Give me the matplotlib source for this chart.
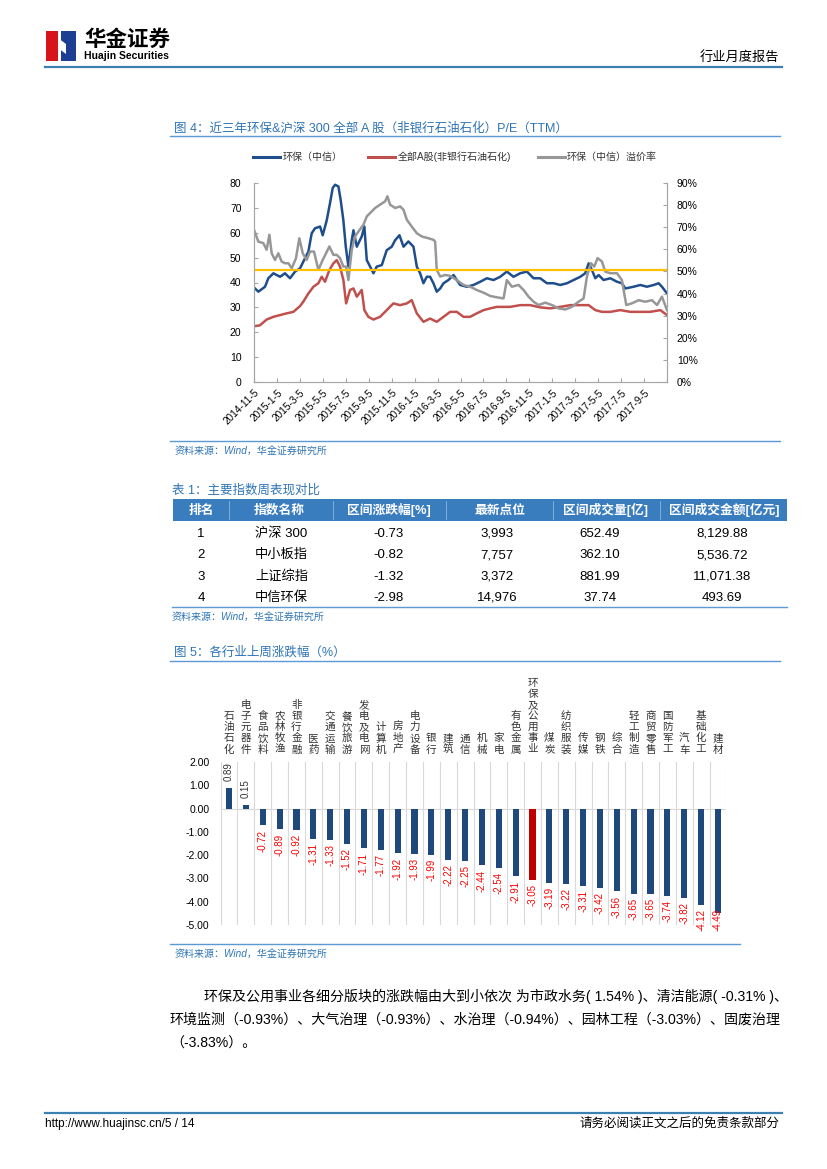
import numpy as np
import pandas as pd
import matplotlib.pyplot as plt
from matplotlib.patches import Rectangle, Polygon
from matplotlib.lines import Line2D
from matplotlib.ticker import FuncFormatter

plt.rcParams['font.family'] = ['Liberation Sans', 'Noto Sans CJK SC']

# ============================================================
# DATA
# ============================================================

# Figure 4: P/E (TTM), time in months since 2014-11-05
hb_t = [0.0, 0.38, 0.96, 1.25, 1.69, 2.27, 2.70, 3.14, 3.58, 4.01, 4.30, 4.74, 5.03, 5.32,
        5.76, 5.99, 6.34, 6.63, 6.86, 7.07, 7.36, 7.56, 7.79, 8.00, 8.23, 8.52, 8.67, 8.96,
        9.39, 9.62, 9.83, 10.12, 10.41, 10.70, 11.14, 11.57, 12.01, 12.30, 12.68, 13.03,
        13.46, 13.90, 14.19, 14.48, 14.77, 15.06, 15.35, 15.64, 15.93, 16.23, 16.52, 16.95,
        17.39, 17.97, 18.55, 19.13, 19.72, 20.30, 20.88, 21.46, 22.04, 22.62, 23.20, 23.79,
        24.37, 24.95, 25.53, 26.11, 26.69, 27.28, 27.86, 28.44, 28.87, 29.17, 29.46, 29.75,
        30.04, 30.47, 31.06, 31.64, 32.07, 32.36, 33.09, 33.67, 34.25, 34.84, 35.27, 35.56,
        36.00]
hb_pe = [38.0, 36.3, 38.3, 41.7, 43.7, 42.3, 43.7, 41.7, 44.4, 45.7, 48.4, 52.4, 59.8, 61.8,
         62.5, 59.0, 65.0, 72.0, 78.0, 79.3, 78.6, 73.0, 65.0, 54.4, 46.4, 57.0, 61.0, 54.4,
         58.5, 62.5, 49.0, 46.4, 43.7, 46.4, 47.0, 53.0, 54.4, 57.0, 59.0, 54.4,
         56.5, 54.4, 46.4, 43.7, 39.7, 42.3, 42.3, 39.7, 36.3, 37.6, 39.7, 41.0,
         43.0, 39.0, 38.3, 39.0, 40.3, 41.7, 41.0, 42.3, 44.4, 42.3, 43.7, 44.4,
         41.7, 41.7, 39.7, 39.7, 39.0, 39.7, 41.0, 42.3, 43.7, 47.7, 45.0, 41.7,
         43.0, 41.0, 41.7, 40.3, 39.7, 37.6, 38.3, 39.0, 38.3, 39.0, 39.7, 38.3,
         35.6]

a_t = [0.0, 0.52, 1.10, 1.69, 2.27, 2.85, 3.43, 4.01, 4.30, 4.74, 5.18, 5.61, 5.90, 6.19,
       6.57, 6.92, 7.21, 7.50, 7.79, 8.03, 8.37, 8.67, 8.96, 9.39, 9.62, 9.97, 10.41, 10.99,
       11.57, 12.15, 12.74, 13.32, 13.75, 14.19, 14.77, 15.35, 15.93, 16.52, 17.10, 17.68,
       18.26, 18.84, 19.42, 20.01, 20.59, 21.17, 21.75, 22.33, 23.20, 24.08, 24.95, 25.82,
       26.69, 27.57, 28.44, 29.17, 29.75, 30.33, 31.06, 31.93, 32.80, 33.67, 34.54, 35.42,
       36.00]
a_pe = [22.4, 22.8, 25.1, 26.2, 26.9, 27.6, 28.2, 30.5, 32.3, 35.6, 38.3, 39.7, 42.3, 40.3,
        45.0, 47.7, 49.0, 46.4, 41.0, 31.6, 37.0, 37.6, 34.3, 37.0, 28.9, 26.2, 25.1, 26.2,
        28.9, 31.6, 30.9, 31.6, 32.9, 27.6, 24.2, 25.5, 24.2, 26.2, 28.2, 28.2,
        26.2, 26.2, 27.6, 28.9, 29.6, 30.2, 30.2, 30.2, 30.9, 30.9, 30.0, 29.6,
        30.2, 30.9, 30.9, 30.9, 28.9, 28.2, 28.2, 28.9, 28.2, 28.2, 28.2, 28.9,
        26.9]

prem_t = [0.0, 0.38, 0.81, 1.10, 1.34, 1.54, 1.83, 2.12, 2.41, 2.70, 3.00, 3.29, 3.66, 3.95,
          4.25, 4.59, 4.89, 5.23, 5.61, 5.99, 6.28, 6.57, 6.92, 7.21, 7.50, 7.79, 8.03, 8.23,
          8.52, 8.81, 9.10, 9.54, 9.83, 10.12, 10.56, 10.99, 11.43, 11.63, 11.86, 12.30,
          12.74, 13.03, 13.32, 13.75, 14.19, 14.63, 15.21, 15.64, 15.79, 15.93, 16.23, 16.66,
          17.10, 17.68, 18.26, 18.84, 19.42, 20.01, 20.59, 21.17, 21.75, 22.04, 22.48, 23.06,
          23.50, 23.93, 24.37, 24.80, 25.39, 25.97, 26.55, 27.13, 27.71, 28.29, 28.73, 29.02,
          29.37, 29.66, 29.95, 30.33, 30.62, 31.06, 31.64, 32.07, 32.45, 32.95, 33.53, 34.11,
          34.69, 35.13, 35.56, 36.00]
prem_pct = [68.8, 63.5, 62.8, 59.8, 66.6, 58.2, 55.2, 58.2, 54.5, 53.7, 53.7, 51.4, 56.0, 65.0,
            58.2, 55.2, 59.0, 59.0, 50.7, 55.2, 58.2, 61.3, 57.5, 57.5, 56.0, 52.2, 52.2, 46.1,
            59.8, 65.8, 68.0, 71.1, 74.9, 76.4, 78.7, 80.2, 81.7, 84.0, 80.2, 78.7,
            79.4, 77.9, 73.4, 70.3, 67.3, 65.8, 65.0, 64.3, 63.5, 50.7, 47.7, 48.4,
            48.0, 46.1, 43.9, 43.1, 41.6, 40.4, 38.9, 38.3, 37.8, 46.1, 43.1, 43.9,
            41.6, 38.6, 36.3, 34.8, 35.9, 34.8, 33.3, 32.8, 34.0, 36.3, 37.8, 47.7,
            53.7, 52.2, 56.0, 54.5, 49.9, 49.2, 49.2, 46.1, 34.8, 35.6, 37.0, 36.3,
            37.0, 34.8, 38.6, 32.5]

prem_avg = 50.5

date_labels = ["2014-11-5", "2015-1-5", "2015-3-5", "2015-5-5", "2015-7-5", "2015-9-5",
               "2015-11-5", "2016-1-5", "2016-3-5", "2016-5-5", "2016-7-5", "2016-9-5",
               "2016-11-5", "2017-1-5", "2017-3-5", "2017-5-5", "2017-7-5", "2017-9-5"]

legend_names = ["环保（中信）", "全部A股(非银行石油石化)", "环保（中信）溢价率"]

# Table 1
tbl_header = ["排名", "指数名称", "区间涨跌幅[%]", "最新点位", "区间成交量[亿]", "区间成交金额[亿元]"]
tbl_rank = ["1", "2", "3", "4"]
tbl_name = ["沪深 300", "中小板指", "上证综指", "中信环保"]
tbl_chg = ["-0.73", "-0.82", "-1.32", "-2.98"]
tbl_last = ["3,993", "7,757", "3,372", "14,976"]
tbl_vol = ["652.49", "362.10", "881.99", "37.74"]
tbl_amt = ["8,129.88", "5,536.72", "11,071.38", "493.69"]

# Figure 5
industries = ["石油石化", "电子元器件", "食品饮料", "农林牧渔", "非银行金融", "医药", "交通运输",
              "餐饮旅游", "发电及电网", "计算机", "房地产", "电力设备", "银行", "建筑", "通信",
              "机械", "家电", "有色金属", "环保及公用事业", "煤炭", "纺织服装", "传媒", "钢铁",
              "综合", "轻工制造", "商贸零售", "国防军工", "汽车", "基础化工", "建材"]
changes = [0.89, 0.15, -0.72, -0.89, -0.92, -1.31, -1.33, -1.52, -1.71, -1.77, -1.92, -1.93,
           -1.99, -2.22, -2.25, -2.44, -2.54, -2.91, -3.05, -3.19, -3.22, -3.31, -3.42, -3.56,
           -3.65, -3.65, -3.74, -3.82, -4.12, -4.49]
highlight = "环保及公用事业"

paragraph = ["环保及公用事业各细分版块的涨跌幅由大到小依次 为市政水务( 1.54% )、清洁能源( -0.31% )、",
             "环境监测（-0.93%）、大气治理（-0.93%）、水治理（-0.94%）、园林工程（-3.03%）、固废治理",
             "（-3.83%）。"]

# ============================================================
# STYLE
# ============================================================

W, H = 827, 1169


def fx(x):
    return x / W


def fy(y):
    return 1 - y / H


title_blue = "#2e74b5"
rule_blue = "#5b9bd5"
head_blue = "#3a7dbf"
c_hb = "#1f4e8c"
c_a = "#c0504d"
c_prem = "#979797"
c_avg = "#ffc000"
c_bar = "#1f497d"
c_bar_hl = "#c00000"
c_neg = "#ff0000"
grey_axis = "#a6a6a6"

fig = plt.figure(figsize=(8.27, 11.69), dpi=100)

# ============================================================
# PAGE HEADER / FOOTER
# ============================================================

fig.patches.append(Rectangle((fx(46), fy(61)), 12 / W, 30 / H, transform=fig.transFigure,
                             color="#d7141a", lw=0))
fig.patches.append(Rectangle((fx(61), fy(61)), 15 / W, 30 / H, transform=fig.transFigure,
                             color="#1c3f94", lw=0))
fig.patches.append(Polygon([(fx(58), fy(38)), (fx(66), fy(44)), (fx(66), fy(54)), (fx(58), fy(48))],
                           closed=True, transform=fig.transFigure, color="white", lw=0))
fig.text(fx(84), fy(40), "华金证券", fontsize=15.5, fontweight="bold", va="center", ha="left")
fig.text(fx(84), fy(56), "Huajin Securities", fontsize=7.5, fontweight="bold", va="center", ha="left")
fig.text(fx(779), fy(57), "行业月度报告", fontsize=9.5, va="center", ha="right")
fig.lines.append(Line2D([fx(45), fx(782)], [fy(67), fy(67)], transform=fig.transFigure,
                        color="#3c7fb1", lw=1.6))

fig.lines.append(Line2D([fx(45), fx(782)], [fy(1113), fy(1113)], transform=fig.transFigure,
                        color="#3c7fb1", lw=1.6))
fig.text(fx(45), fy(1124), "http://www.huajinsc.cn/5 / 14", fontsize=8.5, va="center", ha="left")
fig.text(fx(779), fy(1124), "请务必阅读正文之后的免责条款部分", fontsize=9, va="center", ha="right")

# ============================================================
# FIGURE 4 - LINE CHART
# ============================================================

fig.text(fx(174), fy(128), "图 4：近三年环保&沪深 300 全部 A 股（非银行石油石化）P/E（TTM）",
         fontsize=9.0, color=title_blue, va="center", ha="left")
fig.lines.append(Line2D([fx(170), fx(780)], [fy(136), fy(136)], transform=fig.transFigure,
                        color=rule_blue, lw=1.0))

leg_x = [(253, 280, 283), (368, 395, 398), (538, 565, 567)]
for (x0, x1, xt), name, col in zip(leg_x, legend_names, [c_hb, c_a, c_prem]):
    fig.lines.append(Line2D([fx(x0), fx(x1)], [fy(157), fy(157)], transform=fig.transFigure,
                            color=col, lw=2.2))
    fig.text(fx(xt), fy(157), name, fontsize=7.2, va="center", ha="left", color="#333333")

ax = fig.add_axes([fx(254), fy(382), (667 - 254) / W, (382 - 183) / H])
ax.plot(hb_t, hb_pe, color=c_hb, lw=1.8)
ax.plot(a_t, a_pe, color=c_a, lw=1.8)
ax.set_xlim(0, 36)
ax.set_ylim(0, 80)
ax.set_yticks(np.arange(0, 81, 10))
ax.set_xticks(np.arange(0, 37, 2))
ax.set_xticklabels(date_labels + [""], rotation=45, ha="right", rotation_mode="anchor", fontsize=7.2)
ax.tick_params(axis="x", direction="in", length=3, color=grey_axis, pad=4)
ax.tick_params(axis="y", direction="in", length=3, color=grey_axis, labelsize=7.5, pad=9)
ax.spines["top"].set_visible(False)
for s in ["left", "bottom", "right"]:
    ax.spines[s].set_color(grey_axis)

ax2 = ax.twinx()
ax2.plot(prem_t, prem_pct, color=c_prem, lw=1.8)
ax2.axhline(prem_avg, color=c_avg, lw=1.6)
ax2.set_ylim(0, 90)
ax2.set_yticks(np.arange(0, 91, 10))
ax2.yaxis.set_major_formatter(FuncFormatter(lambda v, p: f"{v:.0f}%"))
ax2.tick_params(axis="y", direction="in", length=3, color=grey_axis, labelsize=7.5, pad=7)
ax2.spines["top"].set_visible(False)
for s in ["left", "bottom", "right"]:
    ax2.spines[s].set_color(grey_axis)

fig.lines.append(Line2D([fx(170), fx(780)], [fy(441), fy(441)], transform=fig.transFigure,
                        color=rule_blue, lw=1.0))
fig.text(fx(175), fy(452), "资料来源：Wind，华金证券研究所", fontsize=7.2, color=title_blue,
         style="italic", va="center", ha="left")

# ============================================================
# TABLE 1
# ============================================================

fig.text(fx(172), fy(490), "表 1：主要指数周表现对比", fontsize=9.0, color=title_blue,
         va="center", ha="left")
fig.patches.append(Rectangle((fx(173), fy(521)), (787 - 173) / W, 22 / H,
                             transform=fig.transFigure, color=head_blue, lw=0))
col_x = [201, 279, 389, 500, 606, 724]
for cx, txt in zip(col_x, tbl_header):
    fig.text(fx(cx), fy(514), txt, fontsize=9.2, fontweight="bold", color="white",
             va="baseline", ha="center")
sep_x = [229, 333, 446, 553, 660]
for sx in sep_x:
    fig.lines.append(Line2D([fx(sx), fx(sx)], [fy(501), fy(519)], transform=fig.transFigure,
                            color="#8db3e2", lw=0.6))
row_y = [537, 558, 580, 601]
for k, y in enumerate(row_y):
    fig.text(fx(201), fy(y), tbl_rank[k], fontsize=9.5, va="baseline", ha="center")
    fig.text(fx(255), fy(y), tbl_name[k], fontsize=9.5, va="baseline", ha="left")
    fig.text(fx(389), fy(y), tbl_chg[k], fontsize=9.5, va="baseline", ha="center")
    fig.text(fx(497), fy(y), tbl_last[k], fontsize=9.5, va="baseline", ha="center")
    fig.text(fx(600), fy(y), tbl_vol[k], fontsize=9.5, va="baseline", ha="center")
    fig.text(fx(722), fy(y), tbl_amt[k], fontsize=9.5, va="baseline", ha="center")
fig.lines.append(Line2D([fx(172), fx(787)], [fy(607), fy(607)], transform=fig.transFigure,
                        color=rule_blue, lw=1.0))
fig.text(fx(172), fy(618), "资料来源：Wind，华金证券研究所", fontsize=7.2, color=title_blue,
         style="italic", va="center", ha="left")

# ============================================================
# FIGURE 5 - BAR CHART
# ============================================================

fig.text(fx(174), fy(652), "图 5：各行业上周涨跌幅（%）", fontsize=9.0, color=title_blue,
         va="center", ha="left")
fig.lines.append(Line2D([fx(170), fx(780)], [fy(661), fy(661)], transform=fig.transFigure,
                        color=rule_blue, lw=1.0))

bx = fig.add_axes([fx(220.6), fy(925), (726.4 - 220.6) / W, (925 - 762) / H])
xs = np.arange(len(industries))
cols = [c_bar_hl if n == highlight else c_bar for n in industries]
bx.bar(xs, changes, width=0.36, color=cols, zorder=3)
bx.set_xlim(-0.5, len(industries) - 0.5)
bx.set_ylim(-5, 2)
bx.set_yticks(np.arange(-5, 2.01, 1))
bx.yaxis.set_major_formatter(FuncFormatter(lambda v, p: f"{v:.2f}"))
bx.tick_params(axis="y", length=0, labelsize=7.5, pad=8)
bx.set_xticks([])
for s in bx.spines.values():
    s.set_visible(False)
for b in np.arange(-0.5, len(industries), 1):
    bx.axvline(b, color="#d9d9d9", lw=0.8, zorder=1)
bx.axhline(0, color="#d9d9d9", lw=0.8, zorder=2)

for i, (name, v) in enumerate(zip(industries, changes)):
    for k, ch in enumerate(name[::-1]):
        bx.annotate(ch, xy=(i, 1), xycoords=("data", "axes fraction"),
                    xytext=(0, 9 + k * 8.0), textcoords="offset points",
                    ha="center", va="center", fontsize=7.6, color="#333333",
                    annotation_clip=False)
    if v >= 0:
        bx.annotate(f"{v:.2f}", xy=(i, v), xytext=(0, 5), textcoords="offset points",
                    rotation=90, ha="center", va="bottom", fontsize=7, color="#333333")
    else:
        yv = max(v, -4.12)
        bx.annotate(f"{v:.2f}", xy=(i, yv), xytext=(0, -3), textcoords="offset points",
                    rotation=90, ha="center", va="top", fontsize=7, color=c_neg,
                    annotation_clip=False, zorder=5)

fig.lines.append(Line2D([fx(170), fx(740)], [fy(944), fy(944)], transform=fig.transFigure,
                        color=rule_blue, lw=1.0))
fig.text(fx(175), fy(955), "资料来源：Wind，华金证券研究所", fontsize=7.2, color=title_blue,
         style="italic", va="center", ha="left")

# ============================================================
# PARAGRAPH
# ============================================================

fig.text(fx(204), fy(996), paragraph[0], fontsize=10.1, va="center", ha="left")
fig.text(fx(170), fy(1020), paragraph[1], fontsize=10.1, va="center", ha="left")
fig.text(fx(170), fy(1043), paragraph[2], fontsize=10.1, va="center", ha="left")

fig.savefig("out.png", dpi=100)
print("Finished!")
